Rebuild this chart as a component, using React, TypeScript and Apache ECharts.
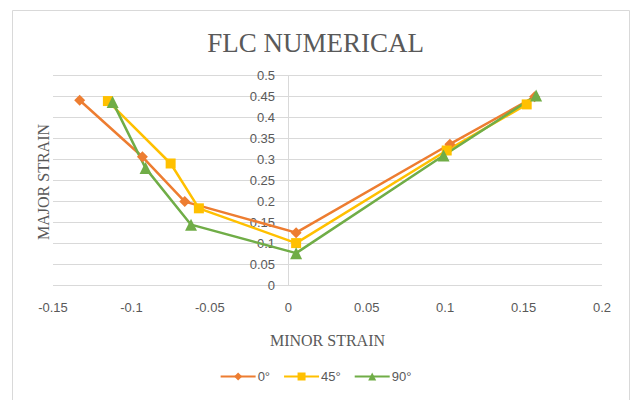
import React, { useEffect, useRef } from "react";
import * as echarts from "echarts";

const seriesNames = ["0°", "45°", "90°"];
const s0: [number, number][] = [
  [-0.133, 0.441],
  [-0.093, 0.306],
  [-0.066, 0.199],
  [0.005, 0.125],
  [0.103, 0.336],
  [0.157, 0.449],
];
const s45: [number, number][] = [
  [-0.115, 0.439],
  [-0.075, 0.29],
  [-0.057, 0.183],
  [0.005, 0.1],
  [0.101, 0.321],
  [0.152, 0.431],
];
const s90: [number, number][] = [
  [-0.112, 0.437],
  [-0.091, 0.279],
  [-0.062, 0.144],
  [0.005, 0.076],
  [0.099, 0.309],
  [0.158, 0.452],
];
const colors = ["#ED7D31", "#FFC000", "#70AD47"];
const symbols = ["diamond", "rect", "triangle"];
const symbolSizes = [11, 10, 12];

export default function App() {
  const ref = useRef<HTMLDivElement>(null);
  useEffect(() => {
    if (!ref.current) return;
    const chart = echarts.init(ref.current, undefined, { renderer: "svg" });
    const data = [s0, s45, s90];
    chart.setOption({
      animation: false,
      backgroundColor: "#ffffff",
      title: {
        text: "FLC NUMERICAL",
        left: "center",
        top: 24,
        textStyle: {
          fontFamily: "Liberation Serif",
          fontWeight: "normal",
          fontSize: 27,
          color: "#595959",
        },
      },
      graphic: [
        {
          type: "rect",
          shape: { x: 12.5, y: 10.5, width: 617, height: 400 },
          style: { fill: "none", stroke: "#D9D9D9", lineWidth: 1 },
          silent: true,
        },
        {
          type: "text",
          x: 43,
          y: 182,
          rotation: Math.PI / 2,
          style: {
            text: "MAJOR STRAIN",
            fontFamily: "Liberation Serif",
            fontSize: 16,
            fill: "#595959",
            align: "center",
            verticalAlign: "middle",
          },
        },
      ],
      legend: {
        bottom: 12,
        left: "center",
        itemWidth: 35,
        itemHeight: 10,
        itemGap: 13,
        textStyle: { color: "#595959", fontSize: 13, fontFamily: "Liberation Sans", padding: [0, 0, 0, -3] },
        data: seriesNames,
      },
      grid: { left: 53, right: 29, top: 75.5, bottom: 115 },
      xAxis: {
        type: "value",
        min: -0.15,
        max: 0.2,
        interval: 0.05,
        name: "MINOR STRAIN",
        nameLocation: "middle",
        nameGap: 47,
        nameTextStyle: { fontFamily: "Liberation Serif", fontSize: 16, color: "#595959" },
        axisLine: { show: false },
        axisTick: { show: false },
        splitLine: { show: false },
        axisLabel: {
          color: "#595959",
          fontSize: 13,
          fontFamily: "Liberation Sans",
          margin: 16,
          formatter: (v: number) => String(+v.toFixed(2)),
        },
      },
      yAxis: {
        type: "value",
        min: 0,
        max: 0.5,
        interval: 0.05,
        offset: -235,
        axisLine: { show: true, onZero: false, lineStyle: { color: "#D9D9D9" } },
        axisTick: { show: false },
        splitLine: { show: true, lineStyle: { color: "#D9D9D9" } },
        axisLabel: {
          color: "#595959",
          fontSize: 13,
          fontFamily: "Liberation Sans",
          margin: 13,
          formatter: (v: number) => String(+v.toFixed(2)),
        },
      },
      series: seriesNames.map((n, i) => ({
        name: n,
        type: "line",
        data: data[i],
        symbol: symbols[i],
        symbolSize: symbolSizes[i],
        lineStyle: { color: colors[i], width: 2.5 },
        itemStyle: { color: colors[i] },
      })),
    });
    return () => chart.dispose();
  }, []);
  return (
    <div
      ref={ref}
      style={{ position: "fixed", left: 0, top: 0, width: 631, height: 400 }}
    />
  );
}
